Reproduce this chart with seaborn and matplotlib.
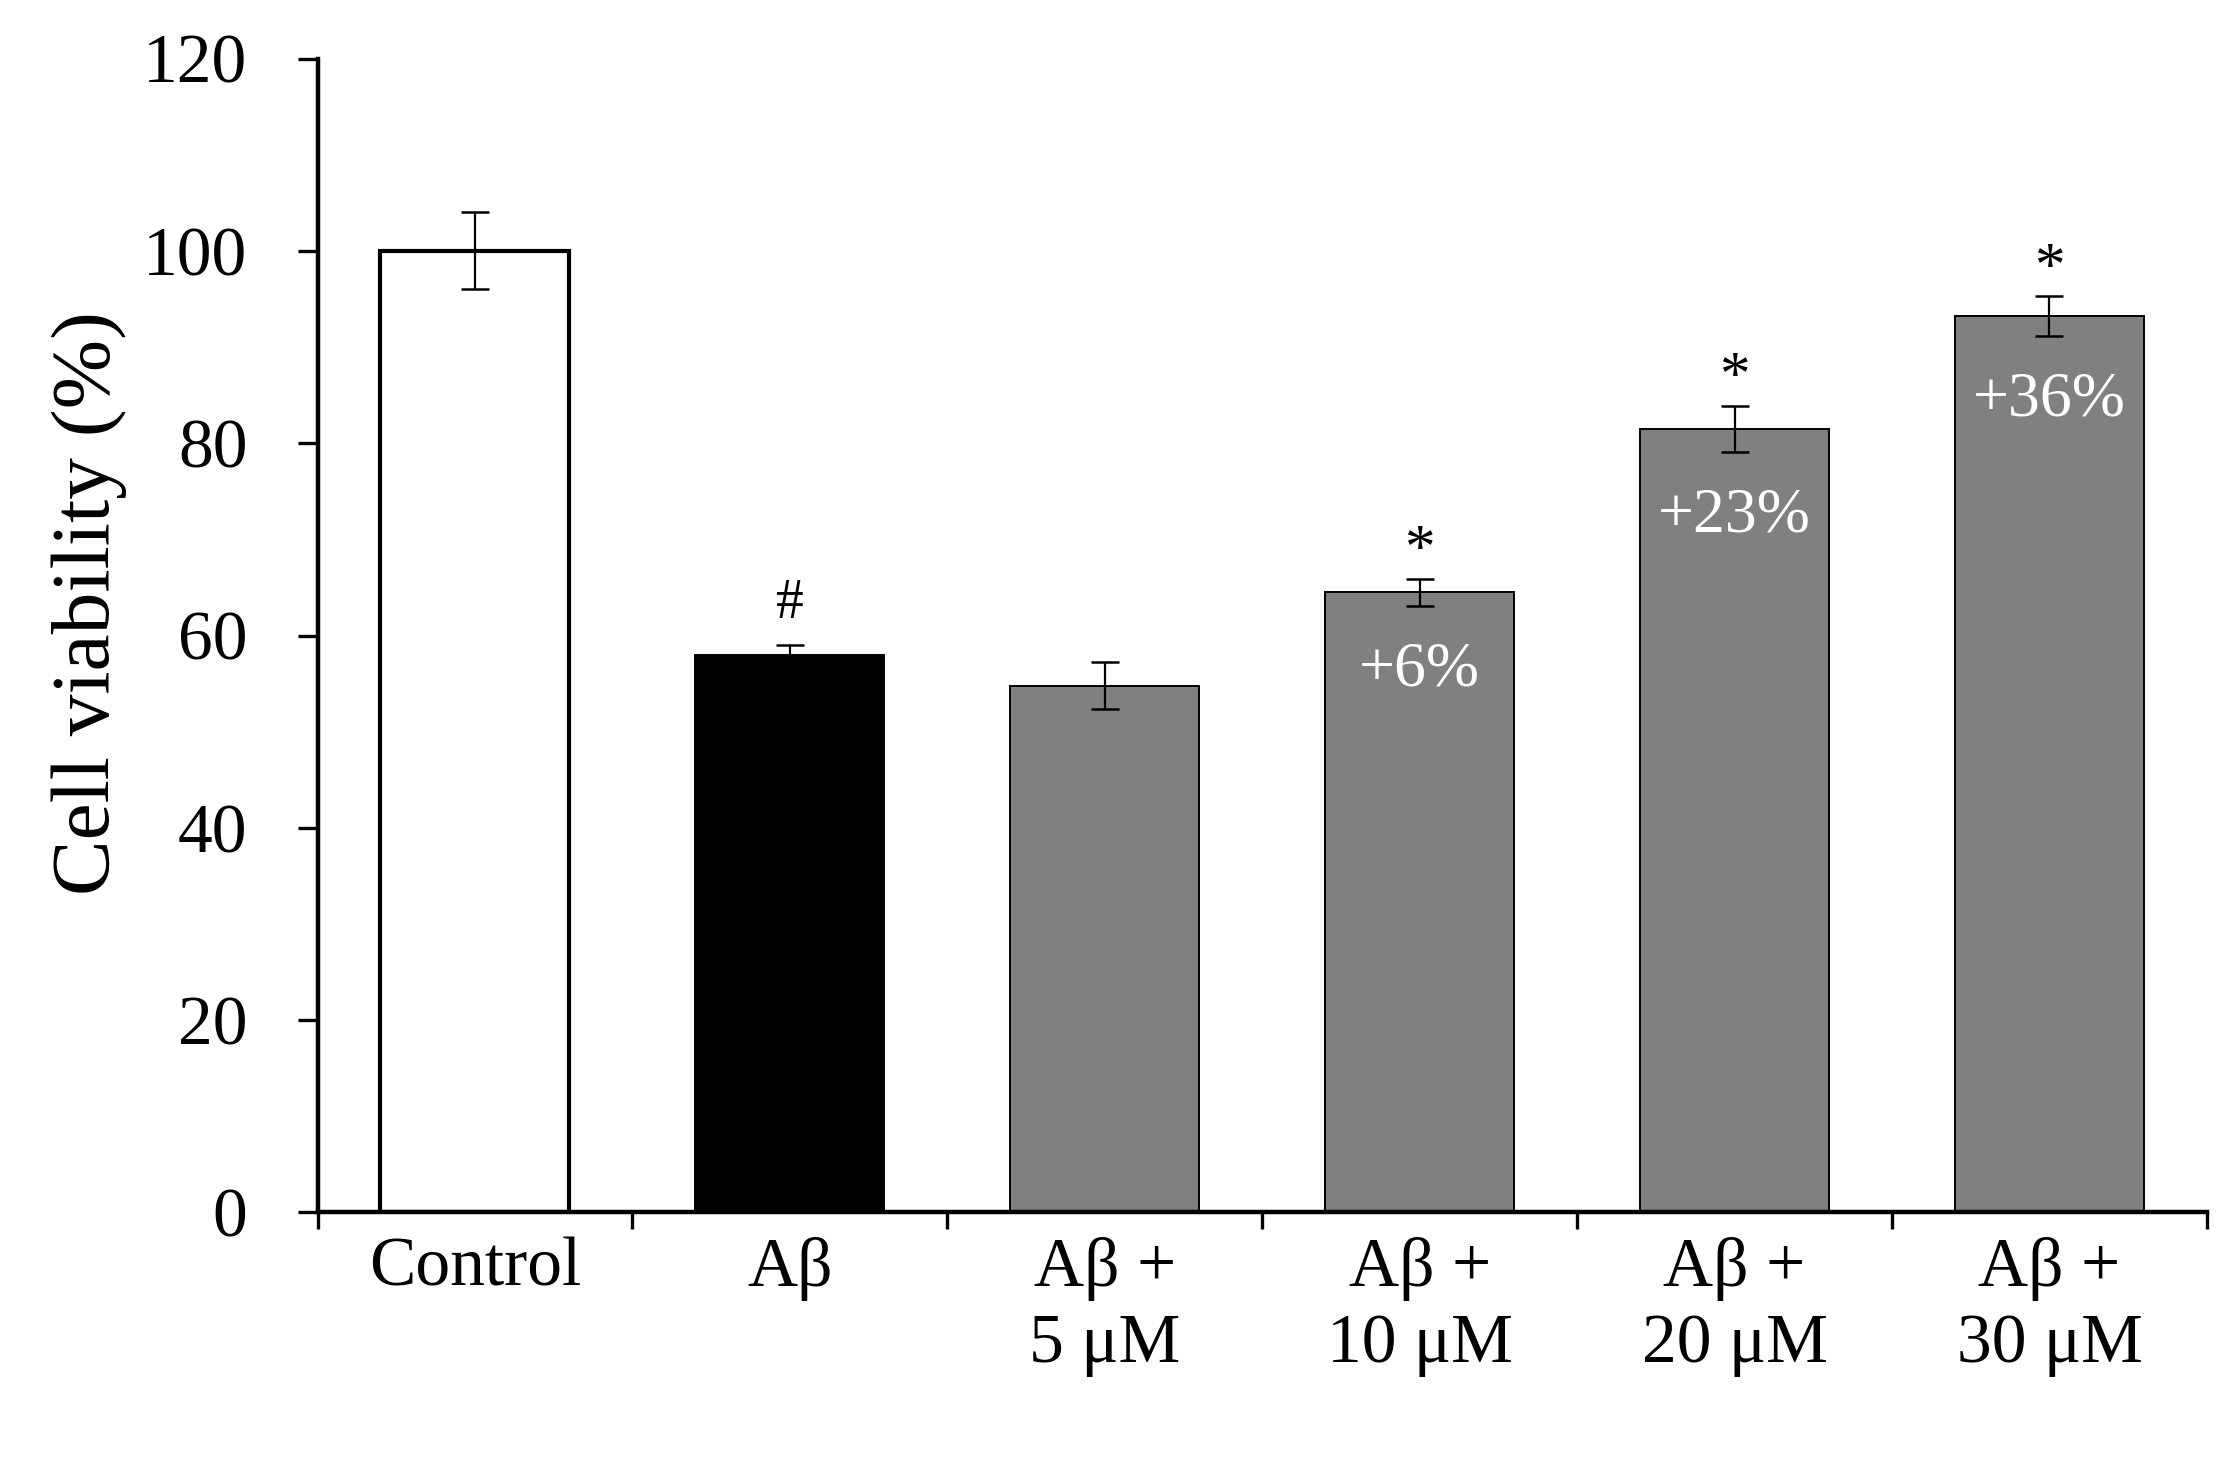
import numpy as np
import pandas as pd
import matplotlib
matplotlib.use("Agg")
import matplotlib.pyplot as plt
import seaborn as sns

# data
groups = ['Control', 'Aβ', 'Aβ +\n5 μM', 'Aβ +\n10 μM', 'Aβ +\n20 μM', 'Aβ +\n30 μM']
viability = [100.0, 58.0, 54.8, 64.5, 81.5, 93.2]
sem = [4.0, 1.0, 2.4, 1.4, 2.4, 2.1]
marks = ['', '#', '', '*', '*', '*']
increase = ['', '', '', '+6%', '+23%', '+36%']
fill_colors = ['#ffffff', '#000000', '#808080', '#808080', '#808080', '#808080']

sns.set_style('ticks', {'axes.edgecolor': 'black', 'xtick.color': 'black',
                        'ytick.color': 'black', 'text.color': 'black',
                        'axes.labelcolor': 'black'})
plt.rcParams['font.family'] = ['Liberation Serif', 'DejaVu Serif']

df = pd.DataFrame({'group': groups, 'viability': viability})

fig = plt.figure(figsize=(11.18, 7.33), dpi=200)
ax = fig.add_axes([0.142, 0.173, 0.845, 0.787])

sns.barplot(data=df, x='group', y='viability', hue='group', palette=fill_colors,
            legend=False, width=0.6, errorbar=None, saturation=1, ax=ax)

# bar outlines
for i, patch in enumerate(ax.patches):
    patch.set_edgecolor('black')
    patch.set_linewidth(1.5 if i == 0 else 0.7)

# error bars
ax.errorbar(np.arange(len(groups)), viability, yerr=sem, fmt='none',
            ecolor='black', elinewidth=0.8, capsize=4.9, capthick=0.9, zorder=5)

# significance marks and percent increase
for i in range(len(groups)):
    top = viability[i] + sem[i]
    if marks[i] == '*':
        ax.text(i, top + 1.3, '*', ha='center', va='baseline', fontsize=22)
    elif marks[i] == '#':
        ax.text(i, top + 2.8, '#', ha='center', va='baseline', fontsize=20)
    if increase[i]:
        ax.text(i, viability[i] - sem[i] - 6.7, increase[i], ha='center',
                va='center', fontsize=23, color='white')

# axes styling
ax.set_ylim(0, 120)
ax.set_xlim(-0.5, len(groups) - 0.5)
ax.set_yticks(np.arange(0, 121, 20))
ax.set_xticks(np.arange(-0.5, len(groups), 1))
ax.set_xticklabels([])
ax.set_xticks(np.arange(len(groups)), minor=True)
ax.set_xticklabels(groups, minor=True, fontsize=25, linespacing=1.25)
ax.tick_params(axis='x', which='major', length=6, width=1.2, direction='out')
ax.tick_params(axis='x', which='minor', length=0, pad=9)
ax.tick_params(axis='y', length=7.2, width=1.2, pad=18, labelsize=25)
ax.set_xlabel('')
ax.set_ylabel('Cell viability (%)', fontsize=30)
ax.yaxis.set_label_coords(-0.101, 0.528)

sns.despine(ax=ax)
for s in ['left', 'bottom']:
    ax.spines[s].set_linewidth(1.6)

fig.savefig('out.png', dpi=200)
